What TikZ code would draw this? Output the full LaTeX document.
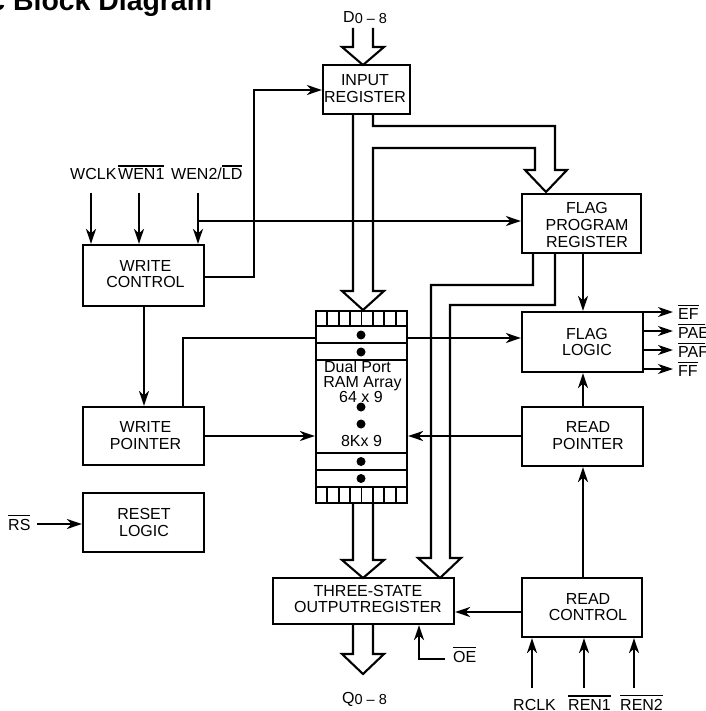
\documentclass[tikz,border=0pt]{standalone}
\usepackage{fontspec}
\setmainfont{Liberation Sans}
\usetikzlibrary{arrows.meta,calc}
\newcommand\ovl[1]{{\setbox0\hbox{#1}\rlap{\rule[\dimexpr\ht0+2.4pt\relax]{\wd0}{1.4pt}}\box0}}
\begin{document}
\begin{tikzpicture}[x=1pt,y=-1pt,
  >={Stealth[length=15pt,width=10pt,inset=4.5pt]},
  blk/.style={draw,line width=2.2pt,inner sep=0pt},
  txt/.style={font=\fontsize{16}{16.8}\selectfont,align=center,inner sep=0pt},
  lab/.style={font=\fontsize{16}{16.8}\selectfont,inner sep=0pt,anchor=base west},
  wire/.style={line width=2.1pt},
  bus/.style={line width=2.1pt}]
\useasboundingbox (0,0) rectangle (705,711);
\clip (0,0) rectangle (705,711);

\node[anchor=base west,inner sep=0pt,font=\bfseries\fontsize{28.4}{30}\selectfont] (title) at (-10.7,10.5) {c Block Diagram};

% boxes
\node[blk,minimum width=87pt,minimum height=49pt] (inreg) at (366.5,89.5) {};
\node[txt] (inregT) at (365,88.8) {INPUT\\REGISTER};
\node[blk,minimum width=119pt,minimum height=59pt] (fpr) at (581.5,223.5) {};
\node[txt] (fprT) at (587,224.7) {FLAG\\PROGRAM\\REGISTER};
\node[blk,minimum width=121pt,minimum height=61pt] (wctl) at (143.5,275.5) {};
\node[txt] (wctlT) at (145.5,274) {WRITE\\CONTROL};
\node[blk,minimum width=121pt,minimum height=60pt] (flog) at (582.5,342) {};
\node[txt] (flogT) at (587,342) {FLAG\\LOGIC};
\node[blk,minimum width=121pt,minimum height=58pt] (wptr) at (143.5,436) {};
\node[txt] (wptrT) at (145.5,435.8) {WRITE\\POINTER};
\node[blk,minimum width=121pt,minimum height=59pt] (rptr) at (582.5,436.5) {};
\node[txt] (rptrT) at (588,435.8) {READ\\POINTER};
\node[blk,minimum width=121pt,minimum height=59pt] (reset) at (143.5,522.5) {};
\node[txt] (resetT) at (144,522.5) {RESET\\LOGIC};
\node[blk,minimum width=181pt,minimum height=46pt] (outreg) at (363.5,601) {};
\node[txt] (outregT) at (368,599) {THREE-STATE\\OUTPUTREGISTER};
\node[blk,minimum width=120pt,minimum height=59pt] (rctl) at (582,607.5) {};
\node[txt] (rctlT) at (588,607) {READ\\CONTROL};

% RAM array
\node[blk,minimum width=91pt,minimum height=192pt] (ram) at (361.5,407) {};
\foreach \yy in {326,343,360,453,470,487}
  \draw[line width=2pt] (ram.west |- 0,\yy) -- (ram.east |- 0,\yy);
\foreach \k in {1,...,7} {
  \draw[line width=1.8pt] ({316+\k*11.375},311) -- ({316+\k*11.375},326);
  \draw[line width=1.8pt] ({316+\k*11.375},487) -- ({316+\k*11.375},503);
}
\foreach \yy in {335,352,407,424,461.5,478.5}
  \fill (361,\yy) circle (4.5pt);
\node[lab,anchor=base] (r1) at (357.5,372.3) {Dual Port};
\node[lab,anchor=base] (r2) at (362.5,387.7) {RAM Array};
\node[lab,anchor=base] (r3) at (361,402) {64 x 9};
\node[lab,anchor=base] (r4) at (361.5,446.7) {8Kx 9};

% buses
\draw[bus] (353,28) -- (353,47) -- (342,47) -- (363,65) -- (384,47) -- (373,47) -- (373,28);
\draw[bus] (353,114) -- (353,291) -- (342,291) -- (363,310) -- (384,291) -- (373,291)
  -- (373,148) -- (535,148) -- (535,170) -- (525,170) -- (546,192) -- (567,170)
  -- (555,170) -- (555,126) -- (373,126) -- (373,114);
\draw[bus] (353,503) -- (353,560) -- (342,560) -- (363,578) -- (384,560) -- (373,560) -- (373,503);
\draw[bus] (533,253) -- (533,285) -- (431,285) -- (431,558) -- (418,558) -- (440,578)
  -- (461,558) -- (450,558) -- (450,305) -- (555,305) -- (555,253);
\draw[bus] (353,624) -- (353,654) -- (342,654) -- (363,674) -- (384,654) -- (373,654) -- (373,624);

% wires
\draw[wire,->] (wctl.east |- 0,277) -- (254,277) -- (254,90) -- (inreg.west |- 0,90);
\draw[wire,->] (91,193) -- (wctl.north -| 91,0);
\draw[wire,->] (139,193) -- (wctl.north -| 139,0);
\draw[wire,->] (198,193) -- (wctl.north -| 198,0);
\draw[wire,->] (198,221) -- (fpr.west |- 0,221);
\draw[wire,->] (wctl.south -| 144,0) -- (wptr.north -| 144,0);
\draw[wire] (wptr.north -| 183,0) -- (183,338) -- (ram.west |- 0,338);
\draw[wire,->] (ram.east |- 0,338) -- (flog.west |- 0,338);
\draw[wire,->] (wptr.east |- 0,436) -- (ram.west |- 0,436);
\draw[wire,->] (rptr.west |- 0,436) -- (ram.east |- 0,436);
\draw[wire,->] (rptr.north -| 583,0) -- (flog.south -| 583,0);
\draw[wire,->] (rctl.north -| 583,0) -- (rptr.south -| 583,0);
\draw[wire,->] (fpr.south -| 583,0) -- (flog.north -| 583,0);
\foreach \yy/\t in {312/EF,331/PAE,350/PAF,369/FF} {
  \draw[wire,->] (flog.east |- 0,\yy) -- (673,\yy);
  \node[lab] (out\t) at (678,\yy+7.5) {\ovl{\t}};
}
\node[lab] (rs) at (8,530) {\ovl{RS}};
\draw[wire,->] (37,524) -- (reset.west |- 0,524);
\draw[wire,->] (rctl.west |- 0,612) -- (outreg.east |- 0,612);
\node[lab] (oe) at (453,662) {\ovl{OE}};
\draw[wire,->] (445,659) -- (419,659) -- (outreg.south -| 419,0);
\draw[wire,->] (532,688) -- (rctl.south -| 532,0);
\draw[wire,->] (584,688) -- (rctl.south -| 584,0);
\draw[wire,->] (634,688) -- (rctl.south -| 634,0);

% labels
\node[lab] (wclk) at (70,180) {WCLK};
\node[lab] (wen1) at (118,180) {\ovl{WEN1}};
\node[lab] (wen2) at (171,180) {WEN2/\ovl{LD}};
\node[lab] (rclk) at (513,710) {RCLK};
\node[lab] (ren1) at (568,710) {\ovl{REN1}};
\node[lab] (ren2) at (620,710) {\ovl{REN2}};
\node[lab] (din) at (343,22.5) {D\raisebox{-1.5pt}{\fontsize{14.5}{15}\selectfont 0 – 8}};
\node[lab] (qout) at (342,703) {Q\raisebox{-1.5pt}{\fontsize{14.5}{15}\selectfont 0 – 8}};
\end{tikzpicture}
\end{document}
